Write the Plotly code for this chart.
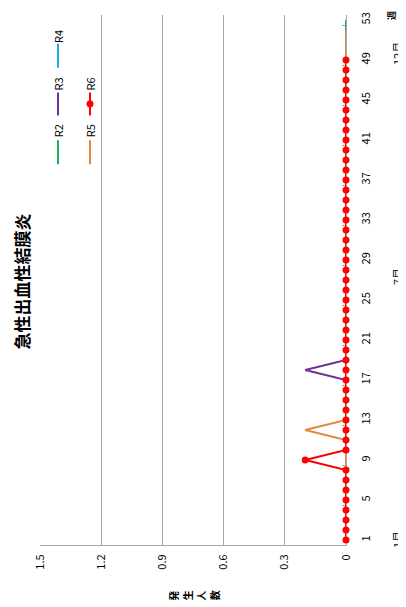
import plotly.graph_objects as go

# ---- data ----
weeks_53 = list(range(1, 54))
weeks_52 = list(range(1, 53))
weeks_49 = list(range(1, 50))

R2 = [0, 0, 0, 0, 0, 0, 0, 0, 0, 0, 0, 0, 0, 0, 0, 0, 0, 0, 0, 0,
      0, 0, 0, 0, 0, 0, 0, 0, 0, 0, 0, 0, 0, 0, 0, 0, 0, 0, 0, 0,
      0, 0, 0, 0, 0, 0, 0, 0, 0, 0, 0, 0, 0]
R3 = [0, 0, 0, 0, 0, 0, 0, 0, 0, 0, 0, 0, 0, 0, 0, 0, 0, 0.2, 0, 0,
      0, 0, 0, 0, 0, 0, 0, 0, 0, 0, 0, 0, 0, 0, 0, 0, 0, 0, 0, 0,
      0, 0, 0, 0, 0, 0, 0, 0, 0, 0, 0, 0]
R4 = [0, 0, 0, 0, 0, 0, 0, 0, 0, 0, 0, 0, 0, 0, 0, 0, 0, 0, 0, 0,
      0, 0, 0, 0, 0, 0, 0, 0, 0, 0, 0, 0, 0, 0, 0, 0, 0, 0, 0, 0,
      0, 0, 0, 0, 0, 0, 0, 0, 0, 0, 0, 0]
R5 = [0, 0, 0, 0, 0, 0, 0, 0, 0, 0, 0, 0.2, 0, 0, 0, 0, 0, 0, 0, 0,
      0, 0, 0, 0, 0, 0, 0, 0, 0, 0, 0, 0, 0, 0, 0, 0, 0, 0, 0, 0,
      0, 0, 0, 0, 0, 0, 0, 0, 0, 0, 0, 0]
R6 = [0, 0, 0, 0, 0, 0, 0, 0, 0.2, 0, 0, 0, 0, 0, 0, 0, 0, 0, 0, 0,
      0, 0, 0, 0, 0, 0, 0, 0, 0, 0, 0, 0, 0, 0, 0, 0, 0, 0, 0, 0,
      0, 0, 0, 0, 0, 0, 0, 0, 0]

week_ticks = [1, 5, 9, 13, 17, 21, 25, 29, 33, 37, 41, 45, 49, 53]
value_ticks = [0, 0.3, 0.6, 0.9, 1.2, 1.5]
value_tick_text = ["0", "0.3", "0.6", "0.9", "1.2", "1.5"]
month_labels = ["1月", "7月", "12月"]
month_weeks = [1, 27.3, 49.6]

title_text = "急性出血性結膜炎"
value_title = "発生人数"
week_title = "週"

FONT = "Noto Sans CJK JP"
GRID = "#a6a6a6"

series = [
    ("R2", weeks_53, R2, "#1aae5a", False),
    ("R3", weeks_52, R3, "#7030a0", False),
    ("R4", weeks_52, R4, "#13b1ea", False),
    ("R5", weeks_52, R5, "#df8a3c", False),
    ("R6", weeks_49, R6, "#ff0000", True),
]

fig = go.Figure()
for name, wk, vals, color, mk in series:
    fig.add_trace(go.Scatter(
        x=vals, y=wk, name=name, mode="lines+markers" if mk else "lines",
        line=dict(color=color, width=2),
        marker=dict(size=7, color=color, line=dict(width=0)),
        cliponaxis=False, showlegend=False,
    ))

# page offset (body margin) and plot area pixel geometry in window coords
OFF = 8
L, R, T, B = 40, 346, 12, 545
W, H = 406, 607


def px(x):
    return (x - L) / (R - L)


def py(y):
    return (B - y) / (B - T)


def A(text, x, y, size, yref="paper"):
    return dict(text=text, x=x, y=y, xref="paper", yref=yref, showarrow=False,
                textangle=-90, xanchor="center", yanchor="middle",
                font=dict(size=size, color="#000", family=FONT))


ann = []
shapes = []
ann.append(A("<b>" + title_text + "</b>", px(21), py(280), 17))
# value axis title: stacked characters, each rotated, laid out left to right
for i, ch in enumerate(value_title):
    ann.append(A("<b>" + ch + "</b>", px(174 + 13.5 * i), py(596), 10))
ann.append(A("<b>" + week_title + "</b>", px(392), py(13), 9))
for lab, wk in zip(month_labels, month_weeks):
    ann.append(A(lab, px(397), wk, 11, yref="y"))

# legend (rotated)
leg_pos = {"R4": (58, 34, 41, 65), "R3": (58, 82, 90, 113), "R2": (58, 129, 138, 162),
           "R6": (90, 82, 90, 113), "R5": (90, 129, 138, 162)}
for name, wk, vals, color, mk in series:
    lx, ly, l0, l1 = leg_pos[name]
    shapes.append(dict(type="line", xref="paper", yref="paper",
                       x0=px(lx), x1=px(lx), y0=py(l0), y1=py(l1),
                       line=dict(color=color, width=2)))
    if mk:
        mid = (l0 + l1) / 2
        shapes.append(dict(type="circle", xref="paper", yref="paper",
                           x0=px(lx - 3.5), x1=px(lx + 3.5), y0=py(mid - 3.5), y1=py(mid + 3.5),
                           fillcolor=color, line=dict(color=color, width=0)))
    ann.append(A(name, px(lx), py(ly), 11))

fig.update_layout(
    width=W - OFF, height=H - OFF,
    margin=dict(l=L - OFF, r=W - R, t=T - OFF, b=H - B),
    paper_bgcolor="white", plot_bgcolor="white",
    font=dict(family=FONT, size=11, color="#000"),
    annotations=ann, shapes=shapes,
    showlegend=False,
    xaxis=dict(range=[1.5, 0], tickvals=value_ticks, ticktext=value_tick_text,
               tickangle=-90, showgrid=True, gridcolor=GRID, gridwidth=1,
               zeroline=False, showline=True, linecolor=GRID, linewidth=1,
               ticks="", ticklabelstandoff=4, tickfont=dict(size=11),
               layer="below traces"),
    yaxis=dict(range=[0.5, 53.5], side="right", tickvals=week_ticks,
               tickangle=-90, showgrid=False, zeroline=False,
               showline=True, linecolor=GRID, linewidth=1,
               ticks="", ticklabelstandoff=10, tickfont=dict(size=11),
               layer="below traces",
               minor=dict(tickvals=[4.5 + 4 * i for i in range(13)], ticks="inside",
                          ticklen=4, tickcolor=GRID, showgrid=False)),
)

fig.write_html("out.html")
